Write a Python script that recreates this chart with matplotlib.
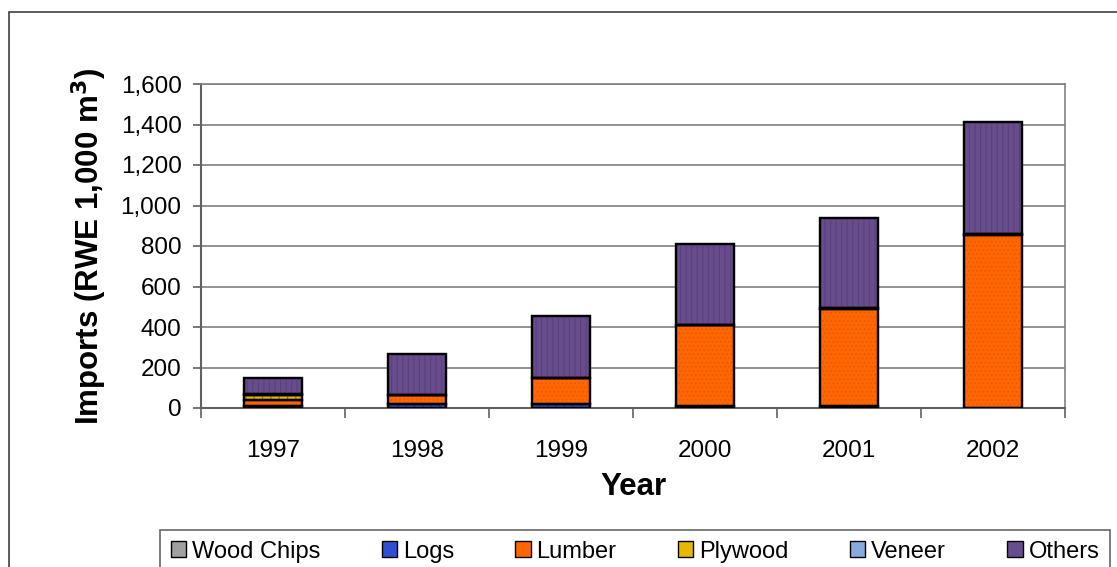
import matplotlib
matplotlib.use("Agg")
import matplotlib.pyplot as plt
import numpy as np
from matplotlib.patches import Rectangle, Patch
from matplotlib.ticker import FuncFormatter, FixedLocator

plt.rcParams['font.family'] = ['Liberation Sans', 'DejaVu Sans']
plt.rcParams['hatch.linewidth'] = 0.8

years = ['1997', '1998', '1999', '2000', '2001', '2002']
wood_chips = [0, 0, 0, 0, 0, 0]
logs = [12, 20, 22, 10, 8, 0]
lumber = [28, 43, 125, 398, 482, 855]
plywood = [25, 3, 3, 2, 2, 3]
veneer = [5, 0, 0, 0, 0, 0]
others = [80, 201, 305, 400, 446, 555]

series = [
    ('Wood Chips', wood_chips, '#A0A0A0', None, None),
    ('Logs', logs, '#2F4FD0', '\\\\\\\\', '#1A2A90'),
    ('Lumber', lumber, '#FF6600', '....', '#E85C00'),
    ('Plywood', plywood, '#E6B800', '++', '#8A6A00'),
    ('Veneer', veneer, '#88AADD', '....', '#6688BB'),
    ('Others', others, '#684D8C', '|||', '#5A4080'),
]

fig = plt.figure(figsize=(11.17, 5.67), dpi=100)
ax = fig.add_axes([201/1117, 1-408/567, (1065-201)/1117, (408-84)/567])

x = np.arange(len(years))
bottom = np.zeros(len(years))
width = 0.4
for name, vals, col, hatch, hcol in series:
    v = np.array(vals, dtype=float)
    ax.bar(x, v, width, bottom=bottom, color=col, edgecolor='black', linewidth=1.6, zorder=3)
    if hatch:
        ax.bar(x, v, width, bottom=bottom, color='none', edgecolor=hcol, hatch=hatch, linewidth=0, zorder=3.5)
        ax.bar(x, v, width, bottom=bottom, color='none', edgecolor='black', linewidth=1.6, zorder=3.6)
    bottom += v

ax.set_xlim(-0.5, len(years) - 0.5)
ax.set_ylim(0, 1600)
ax.set_yticks(np.arange(0, 1601, 200))
ax.yaxis.set_major_formatter(FuncFormatter(lambda v, p: f'{int(v):,}'))
ax.yaxis.grid(True, color='#808080', linewidth=1.2, zorder=0)
ax.set_axisbelow(True)

ax.set_xticks(x)
ax.set_xticklabels(years)
ax.xaxis.set_minor_locator(FixedLocator(np.arange(-0.5, len(years), 1.0)))
ax.tick_params(axis='x', which='major', length=0, pad=23, labelsize=17.5)
ax.tick_params(axis='x', which='minor', length=7, width=1.2, color='#606060', direction='out')
ax.tick_params(axis='y', which='major', length=6, width=1.2, color='#606060', direction='out', pad=8, labelsize=17.5)

for s in ['top', 'right']:
    ax.spines[s].set_color('#808080')
    ax.spines[s].set_linewidth(1.2)
for s in ['left', 'bottom']:
    ax.spines[s].set_color('#606060')
    ax.spines[s].set_linewidth(1.5)

ax.set_xlabel('Year', fontsize=22.5, fontweight='bold', labelpad=7)
ax.set_ylabel('Imports (RWE 1,000 m$^\\mathbf{3}$)', fontsize=22.5, fontweight='bold', labelpad=8)

# outer border
fig.patches.append(Rectangle((9/1117, -0.1), 1.2, 1 - 12/567 + 0.1, transform=fig.transFigure,
                             fill=False, edgecolor='#404040', linewidth=1.2))

handles = [Patch(facecolor=c, edgecolor='black', linewidth=1.0, label=n) for n, _, c, _, _ in series]
top = 1 - 530/567
leg = fig.legend(handles=handles, ncol=6, loc='upper left',
                 bbox_to_anchor=(160/1117, top - 0.2, (1110-160)/1117, 0.2),
                 mode='expand', frameon=True, fancybox=False, fontsize=17,
                 handlelength=0.65, handleheight=0.65, handletextpad=0.25, borderpad=0.45,
                 columnspacing=1.5, borderaxespad=0)
leg.get_frame().set_edgecolor('#404040')
leg.get_frame().set_linewidth(1.2)

fig.savefig('out.png', dpi=100)
